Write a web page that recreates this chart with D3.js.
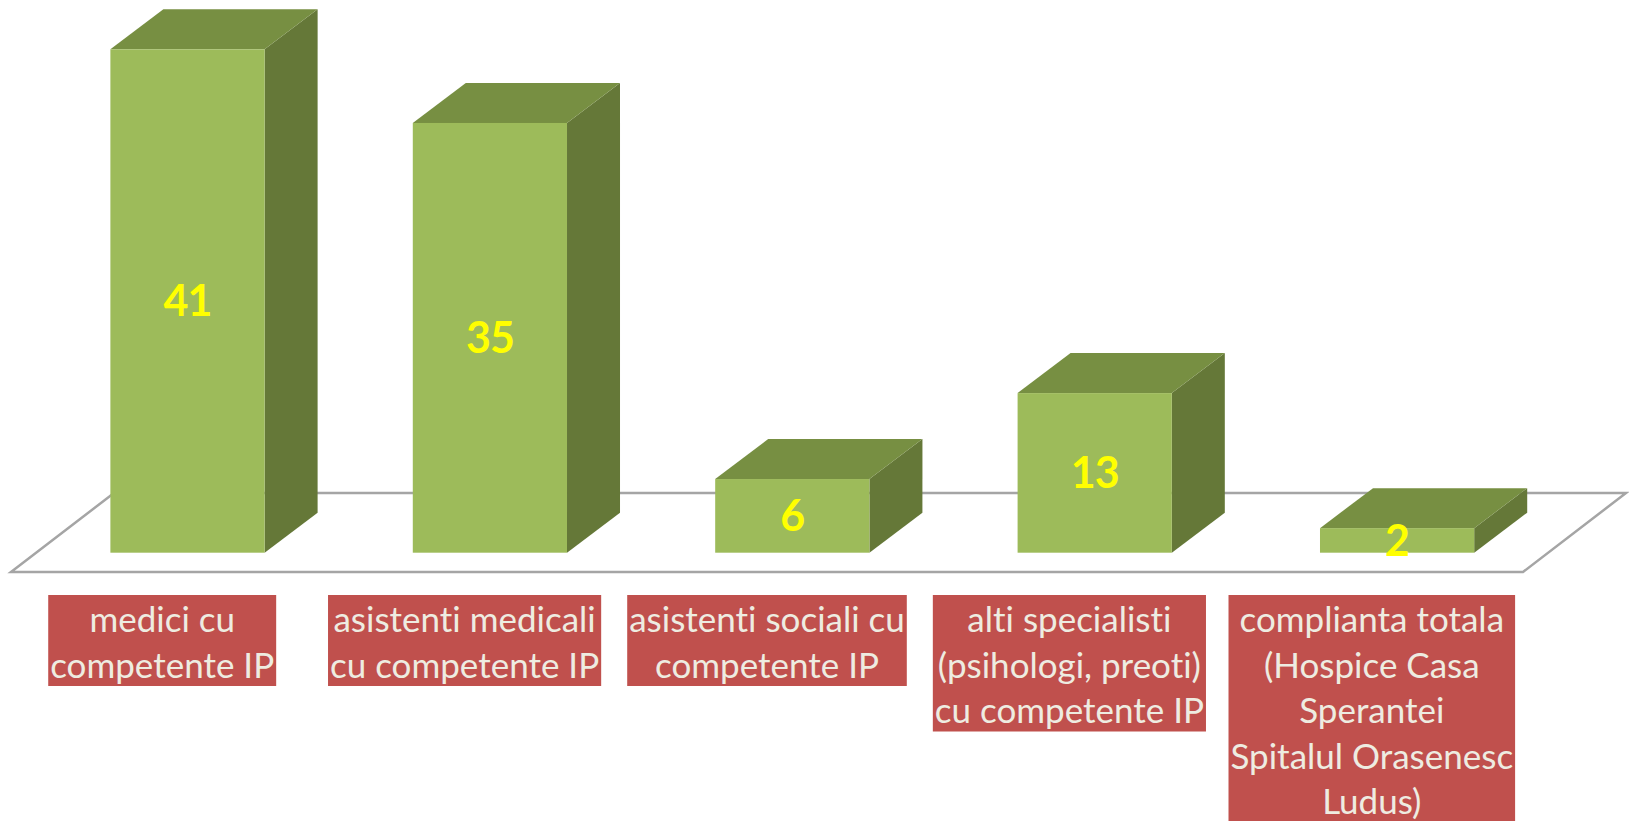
<!DOCTYPE html>
<html>
<head>
<meta charset="utf-8">
<script src="https://cdn.jsdelivr.net/npm/d3@7"></script>
<style>
  html, body { margin: 0; padding: 0; background: #ffffff; }
  svg { display: block; }
  text { font-variant-ligatures: none; font-feature-settings: "liga" 0, "clig" 0; }
</style>
</head>
<body>
<svg id="chart" width="1629" height="821"></svg>
<script>
// ---- data ----
const categories = ["medici", "asistenti medicali", "asistenti sociali", "alti specialisti", "complianta totala"];
const values = [41, 35, 6, 13, 2];
const labelLines = [
  ["medici cu", "competente IP"],
  ["asistenti medicali", "cu competente IP"],
  ["asistenti sociali cu", "competente IP"],
  ["alti specialisti", "(psihologi, preoti)", "cu competente IP"],
  ["complianta totala", "(Hospice Casa", "Sperantei", "Spitalul Orasenesc", "Ludus)"]
];

// ---- layout ----
const W = 1629, H = 821;
const svg = d3.select("#chart");
svg.append("rect").attr("width", W).attr("height", H).attr("fill", "#ffffff");

const floorFrontY = 572, floorLeft = 11, floorRight = 1523;
const floorDepth = { dx: 103, dy: -79 };
const barInset = { dx: 25.3, dy: -19.3 };
const barDepth = { dx: 53, dy: -40 };

const xBar = d3.scaleBand().domain(categories)
  .range([floorLeft + barInset.dx, floorRight + barInset.dx])
  .paddingInner(0.49).paddingOuter(0.245);
const xLabel = d3.scaleBand().domain(categories).range([floorLeft, floorRight]);

const yBase = floorFrontY + barInset.dy; // 552.7
const y = d3.scaleLinear().domain([0, 41]).range([yBase, 49.3]);

// floor
const floorPts = [
  [floorLeft, floorFrontY],
  [floorRight, floorFrontY],
  [floorRight + floorDepth.dx, floorFrontY + floorDepth.dy],
  [floorLeft + floorDepth.dx, floorFrontY + floorDepth.dy]
];
svg.append("path")
  .attr("d", d3.line()(floorPts) + "Z")
  .attr("fill", "#ffffff")
  .attr("stroke", "#a5a5a5")
  .attr("stroke-width", 2.5)
  .attr("stroke-linejoin", "miter");

// bars
const data = categories.map((c, i) => ({ c, v: values[i] }));
const bars = svg.append("g").selectAll("g").data(data).join("g");

bars.each(function (d) {
  const g = d3.select(this);
  const x0 = xBar(d.c), w = xBar.bandwidth();
  const yt = y(d.v), yb = y(0);
  const dx = barDepth.dx, dy = barDepth.dy;
  g.append("path")
    .attr("d", d3.line()([[x0 + w, yt], [x0 + w + dx, yt + dy], [x0 + w + dx, yb + dy], [x0 + w, yb]]) + "Z")
    .attr("fill", "#657838");
  g.append("path")
    .attr("d", d3.line()([[x0, yt], [x0 + w, yt], [x0 + w + dx, yt + dy], [x0 + dx, yt + dy]]) + "Z")
    .attr("fill", "#778f42");
  g.append("rect")
    .attr("x", x0).attr("y", yt)
    .attr("width", w).attr("height", yb - yt)
    .attr("fill", "#9dbb5a");
});

// value labels
svg.append("g").selectAll("text").data(data).join("text")
  .attr("x", d => xBar(d.c) + xBar.bandwidth() / 2)
  .attr("y", d => (y(d.v) + y(0)) / 2)
  .attr("dy", "0.36em")
  .attr("text-anchor", "middle")
  .attr("font-family", "Lato, 'Open Sans', sans-serif")
  .attr("font-weight", "bold")
  .attr("font-size", 43)
  .attr("letter-spacing", -1)
  .attr("fill", "#ffff00")
  .text(d => d.v);

// category labels
const boxTop = 595, lineH = 45.5, firstBase = 632;
const lg = svg.append("g").selectAll("g").data(data).join("g");
lg.each(function (d, i) {
  const g = d3.select(this);
  const cx = xLabel(d.c) + xLabel.bandwidth() / 2;
  const rect = g.append("rect").attr("fill", "#c0504d");
  const t = g.append("text")
    .attr("text-anchor", "middle")
    .attr("font-family", "Lato, 'Open Sans', sans-serif")
    .attr("font-size", 35)
    .attr("fill", "#eeece1");
  let maxW = 0;
  labelLines[i].forEach((ln, k) => {
    const ts = t.append("tspan").attr("x", cx).attr("y", firstBase + k * lineH).text(ln);
    maxW = Math.max(maxW, ts.node().getComputedTextLength());
  });
  const bw = maxW + 4;
  rect.attr("x", cx - bw / 2).attr("y", boxTop)
    .attr("width", bw).attr("height", labelLines[i].length * lineH);
});
</script>
</body>
</html>
